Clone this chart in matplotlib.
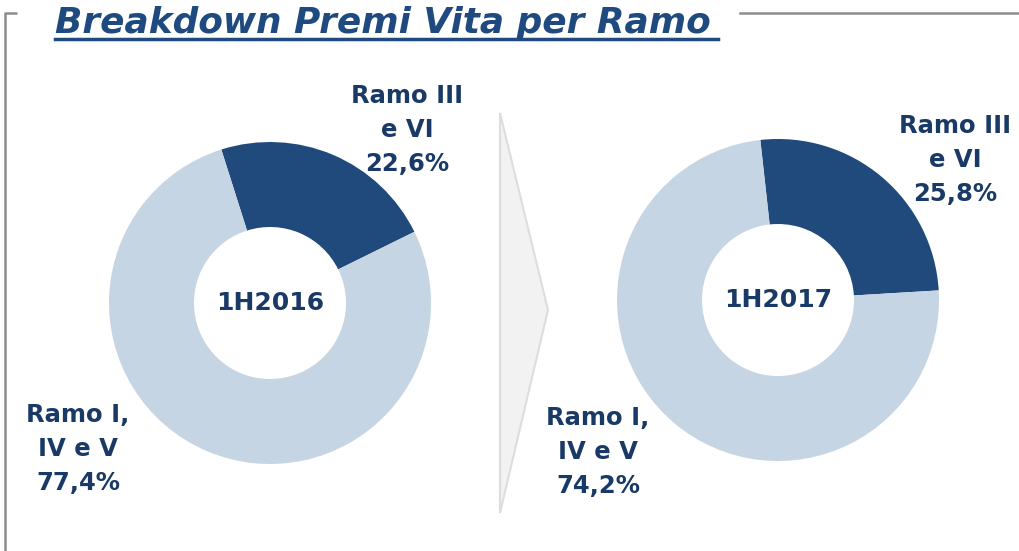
import matplotlib
matplotlib.use("Agg")
import matplotlib.pyplot as plt
from matplotlib.patches import Polygon

# dati
periodi = ["1H2016", "1H2017"]
ramo_3_6 = [22.6, 25.8]
ramo_1_4_5 = [77.4, 74.2]
etichette = ["Ramo III\ne VI", "Ramo I,\nIV e V"]

scuro = "#204A7C"
chiaro = "#C6D5E4"
testo = "#193A66"

W, H = 1020, 551
fig = plt.figure(figsize=(W / 100, H / 100), dpi=100)
ax = fig.add_axes([0, 0, 1, 1])
ax.set_xlim(0, W)
ax.set_ylim(0, H)
ax.set_aspect("equal")
ax.axis("off")


def py(y):
    # da pixel (dall'alto) a coordinate dell'asse
    return H - y


# cornice
ax.plot([5, 5, 17], [py(551), py(13), py(13)], color="#8C8C8C", lw=1.8, solid_capstyle="butt")
ax.plot([740, 1020], [py(13), py(13)], color="#8C8C8C", lw=1.8)

# titolo
ax.text(55, py(33), "Breakdown Premi Vita per Ramo", fontsize=25.8, fontweight="bold",
        style="italic", color="#1F4A80", ha="left", va="baseline", family="DejaVu Sans")
ax.plot([55, 718], [py(39), py(39)], color="#1F4A80", lw=2.5)

# freccia
ax.add_patch(Polygon([(500, py(113)), (548, py(310)), (500, py(513))], closed=True,
                     facecolor="#F2F2F2", edgecolor="#DDDDDD", lw=1.5))

centri = [(270, py(303)), (778, py(300))]
partenze = [107.6, 96.3]
pos_alto = [(407, py(130)), (955, py(160))]
pos_basso = [(78, py(449)), (598, py(452))]

for i in range(2):
    ax.pie([ramo_3_6[i], ramo_1_4_5[i]], colors=[scuro, chiaro], startangle=partenze[i],
           counterclock=False, center=centri[i], radius=161,
           wedgeprops=dict(width=161 - 76, edgecolor="none"), frame=True)
    ax.text(centri[i][0], centri[i][1], periodi[i], fontsize=18, fontweight="bold",
            color=testo, ha="center", va="center")
    ax.text(pos_alto[i][0], pos_alto[i][1],
            etichette[0] + "\n" + f"{ramo_3_6[i]:.1f}%".replace(".", ","),
            fontsize=17.5, fontweight="bold", color=testo, ha="center", va="center",
            linespacing=1.52)
    ax.text(pos_basso[i][0], pos_basso[i][1],
            etichette[1] + "\n" + f"{ramo_1_4_5[i]:.1f}%".replace(".", ","),
            fontsize=17.5, fontweight="bold", color=testo, ha="center", va="center",
            linespacing=1.52)

ax.set_xlim(0, W)
ax.set_ylim(0, H)
ax.axis("off")

fig.savefig("out.png", dpi=100)
